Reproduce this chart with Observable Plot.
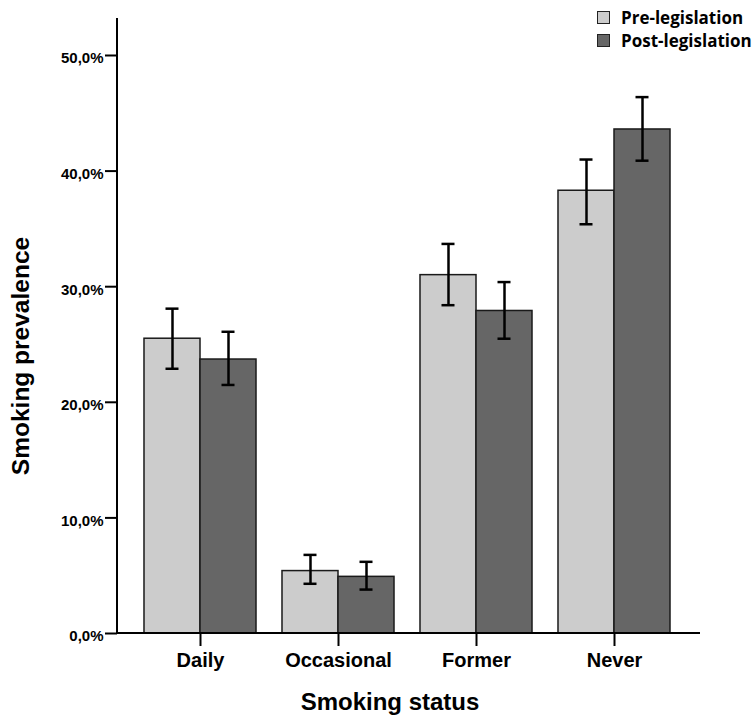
<!DOCTYPE html>
<html><head><meta charset="utf-8">
<script src="https://cdn.jsdelivr.net/npm/d3@7"></script>
<script src="https://cdn.jsdelivr.net/npm/@observablehq/plot@0.6"></script>
<style>
body{margin:0;background:#fff}
#wrap{position:relative;width:754px;height:722px}
#legend{position:absolute;left:597px;top:6px;font-family:"Open Sans",sans-serif;font-weight:bold;font-size:17px;color:#000}
.item{display:flex;align-items:center;height:23px;white-space:nowrap}
.sw{width:11px;height:11px;border:1.5px solid #222;margin-right:11px;box-sizing:content-box}
</style></head><body>
<div id="wrap"><div id="legend"></div></div>
<script>
const categories = ["Daily", "Occasional", "Former", "Never"];
const periods = ["Pre-legislation", "Post-legislation"];
const preValues = [25.5, 5.4, 31.0, 38.3];
const preLow = [22.9, 4.3, 28.4, 35.4];
const preHigh = [28.1, 6.8, 33.7, 41.0];
const postValues = [23.7, 4.9, 27.9, 43.6];
const postLow = [21.5, 3.8, 25.5, 40.9];
const postHigh = [26.1, 6.2, 30.4, 46.4];
const yTicks = [0, 10, 20, 30, 40, 50];
const colors = ["#cccccc", "#666666"];

const rows = [];
categories.forEach((c, i) => {
  rows.push({category: c, period: periods[0], value: preValues[i], low: preLow[i], high: preHigh[i]});
  rows.push({category: c, period: periods[1], value: postValues[i], low: postLow[i], high: postHigh[i]});
});

const fmt = d => d.toFixed(1).replace(".", ",") + "%";
const FONT = "'Liberation Sans', Arial, sans-serif";

const plot = Plot.plot({
  width: 754,
  height: 722,
  marginLeft: 117,
  marginRight: 54,
  marginTop: 18,
  marginBottom: 89,
  style: {fontFamily: FONT, background: "#fff", color: "#000"},
  fx: {domain: categories, range: [131, 683], padding: 0, round: false, label: null},
  x: {domain: periods, paddingInner: 0, paddingOuter: 0.232, round: false, axis: null},
  y: {domain: [0, 53.2], label: null},
  color: {domain: periods, range: colors},
  marks: [
    Plot.axisY({ticks: yTicks, tickFormat: () => "", tickSize: 12, dx: -14, label: null, strokeWidth: 2}),
    Plot.axisY({ticks: yTicks, tickFormat: fmt, tickSize: 0, tickPadding: 14, dx: -14, dy: 3, fontSize: 15, fontWeight: "bold", label: null}),
    Plot.axisFx({anchor: "bottom", tickSize: 13, tickPadding: 6, fontSize: 20, fontWeight: "bold", label: null, strokeWidth: 2}),
    Plot.barY(rows, {fx: "category", x: "period", y: "value", fill: "period", stroke: "#1a1a1a", strokeWidth: 1.5}),
    Plot.ruleX(rows, {fx: "category", x: "period", y1: "low", y2: "high", stroke: "#000", strokeWidth: 2.5}),
    Plot.tickY(rows, {fx: "category", x: "period", y: "low", stroke: "#000", strokeWidth: 2.5, insetLeft: 21.5, insetRight: 21.5}),
    Plot.tickY(rows, {fx: "category", x: "period", y: "high", stroke: "#000", strokeWidth: 2.5, insetLeft: 21.5, insetRight: 21.5})
  ]
});

const svg = d3.select(plot);
const y = plot.scale("y");
const x0 = 117, x1 = 754 - 54;
svg.append("line").attr("x1", x0).attr("x2", x0).attr("y1", y.apply(53.2)).attr("y2", y.apply(0)).attr("stroke", "#000").attr("stroke-width", 2);
svg.append("line").attr("x1", x0).attr("x2", x1).attr("y1", y.apply(0)).attr("y2", y.apply(0)).attr("stroke", "#000").attr("stroke-width", 2);
svg.append("text").attr("transform", "translate(23,356) rotate(-90)").attr("text-anchor", "middle").attr("dominant-baseline", "middle")
  .attr("font-size", 24.5).attr("font-weight", "bold").attr("font-family", FONT).text("Smoking prevalence");
svg.append("text").attr("x", 390).attr("y", 704).attr("text-anchor", "middle").attr("dominant-baseline", "middle")
  .attr("font-size", 24).attr("font-weight", "bold").attr("font-family", FONT).text("Smoking status");

document.getElementById("wrap").prepend(plot);
const legend = d3.select("#legend");
periods.forEach((p, i) => {
  const it = legend.append("div").attr("class", "item");
  it.append("div").attr("class", "sw").style("background", colors[i]);
  it.append("span").text(p);
});
</script>
</body></html>
